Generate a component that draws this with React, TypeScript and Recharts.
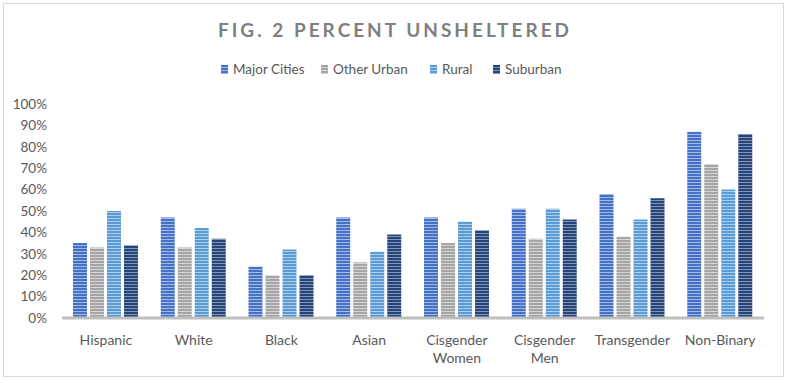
import React from "react";
import { BarChart, Bar, XAxis, YAxis } from "recharts";

const categories = ["Hispanic", "White", "Black", "Asian", "Cisgender Women", "Cisgender Men", "Transgender", "Non-Binary"];
const majorCities = [35, 47, 24, 47, 47, 51, 58, 87];
const otherUrban = [33, 33, 20, 26, 35, 37, 38, 72];
const rural = [50, 42, 32, 31, 45, 51, 46, 60];
const suburban = [34, 37, 20, 39, 41, 46, 56, 86];
const yTicks = [0, 10, 20, 30, 40, 50, 60, 70, 80, 90, 100];

const data = categories.map((c, i) => ({
  name: c,
  majorCities: majorCities[i],
  otherUrban: otherUrban[i],
  rural: rural[i],
  suburban: suburban[i],
}));

const series = [
  { key: "majorCities", label: "Major Cities", base: "#4472C4", light: "#A3B8E2", id: "pMC" },
  { key: "otherUrban", label: "Other Urban", base: "#A5A5A5", light: "#D6D6D6", id: "pOU" },
  { key: "rural", label: "Rural", base: "#5B9BD5", light: "#ADCDEC", id: "pR" },
  { key: "suburban", label: "Suburban", base: "#264478", light: "#8094B8", id: "pS" },
];

const FONT = "Lato, 'Open Sans', sans-serif";
const TXT = "#595959";

const XTick = (props: any) => {
  const { x, y, payload } = props;
  const v: string = payload.value;
  const lines = v.startsWith("Cisgender") ? v.split(" ") : [v];
  return (
    <g transform={`translate(${x},${y})`}>
      {lines.map((l, i) => (
        <text key={i} x={0} y={19 + i * 18} textAnchor="middle" fill={TXT} fontSize={14} fontFamily={FONT}>
          {l}
        </text>
      ))}
    </g>
  );
};

const legendX = [221, 321, 430, 493];

export default function App() {
  return (
    <div style={{ position: "absolute", left: 0, top: 0, width: 790, height: 383, background: "#fff" }}>
      <div
        style={{
          position: "absolute",
          left: 3,
          top: 3,
          width: 779,
          height: 372,
          border: "1px solid #D9D9D9",
        }}
      />
      <div
        style={{
          position: "absolute",
          left: 0,
          top: 18,
          width: 790,
          textAlign: "center",
          fontFamily: FONT,
          fontWeight: 700,
          fontSize: 19,
          letterSpacing: 3,
          color: "#7F7F7F",
        }}
      >
        FIG. 2 PERCENT UNSHELTERED
      </div>
      <div style={{ position: "absolute", left: 0, top: 0 }}>
        <BarChart
          width={790}
          height={383}
          data={data}
          margin={{ top: 104, right: 26, bottom: 35, left: 0 }}
          barGap={3}
          barCategoryGap="13%"
        >
          <defs>
            {series.map((s) => (
              <pattern key={s.id} id={s.id} patternUnits="userSpaceOnUse" width={4} height={3}>
                <rect width={4} height={3} fill={s.base} />
                <rect y={2} width={4} height={1} fill={s.light} />
              </pattern>
            ))}
          </defs>
          <YAxis
            width={62}
            domain={[0, 100]}
            ticks={yTicks}
            tickFormatter={(v: number) => `${v}%`}
            axisLine={false}
            tickLine={false}
            tickMargin={9}
            interval={0}
            tick={{ fill: TXT, fontSize: 13.5, fontFamily: FONT }}
          />
          <XAxis
            dataKey="name"
            axisLine={{ stroke: "#BFBFBF", strokeWidth: 3 }}
            tickLine={false}
            interval={0}
            tick={<XTick />}
          />
          {series.map((s) => (
            <Bar key={s.key} dataKey={s.key} name={s.label} fill={`url(#${s.id})`} barSize={14} isAnimationActive={false} />
          ))}
        </BarChart>
      </div>
      {series.map((s, i) => (
        <div
          key={s.key}
          style={{
            position: "absolute",
            left: legendX[i],
            top: 61,
            display: "flex",
            alignItems: "center",
            fontFamily: FONT,
            fontSize: 13.5,
            color: TXT,
            whiteSpace: "nowrap",
          }}
        >
          <svg width={7} height={9} style={{ marginRight: 5 }}>
            <rect width={7} height={9} fill={`url(#${s.id})`} />
          </svg>
          <span>{s.label}</span>
        </div>
      ))}
    </div>
  );
}
